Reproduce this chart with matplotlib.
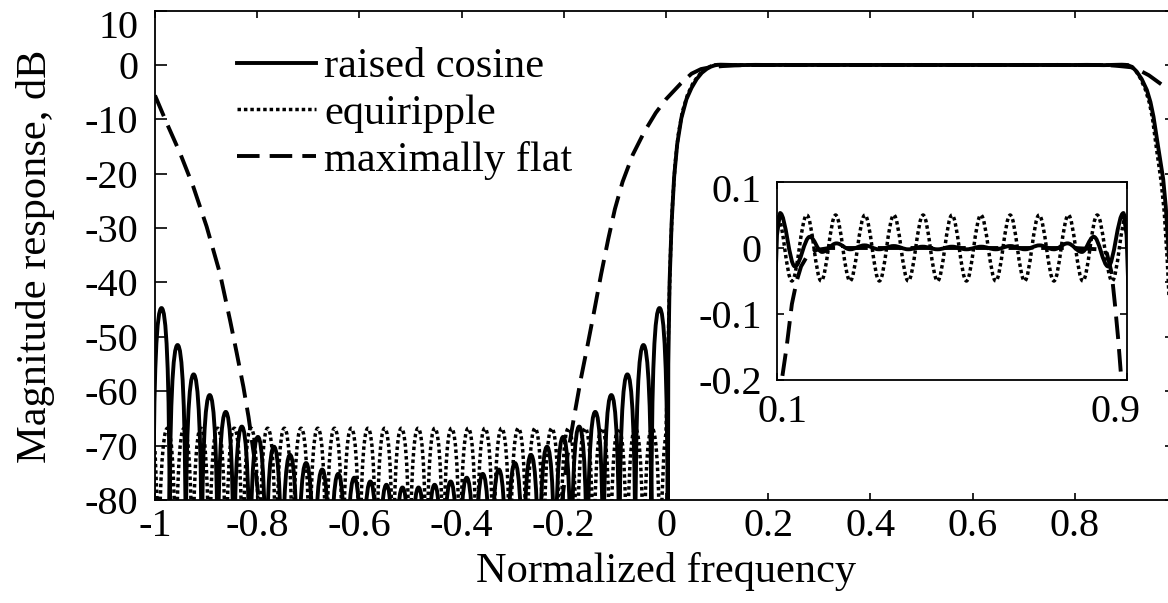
import matplotlib
matplotlib.use("Agg")
import matplotlib.pyplot as plt
from matplotlib.path import Path
from matplotlib.patches import PathPatch
from matplotlib.lines import Line2D

plt.rcParams['font.family'] = ['Liberation Serif', 'DejaVu Serif']
plt.rcParams['axes.unicode_minus'] = False

# ---------------- data ----------------
labels = ["raised cosine", "equiripple", "maximally flat"]

x_ticks = [-1, -0.8, -0.6, -0.4, -0.2, 0, 0.2, 0.4, 0.6, 0.8, 1]
x_ticklabels = ["-1", "-0.8", "-0.6", "-0.4", "-0.2", "0", "0.2", "0.4", "0.6", "0.8", "1"]
y_ticks = [10, 0, -10, -20, -30, -40, -50, -60, -70, -80]
y_ticklabels = ["10", "0", "-10", "-20", "-30", "-40", "-50", "-60", "-70", "-80"]
inset_x_ticks = [0.1, 0.9]
inset_x_ticklabels = ["0.1", "0.9"]
inset_y_ticks = [0.1, 0, -0.1, -0.2]
inset_y_ticklabels = ["0.1", "0", "-0.1", "-0.2"]

# raised cosine: stopband side-lobes (null frequencies, lobe peak levels in dB)
rc_null_f = [-1.003, -0.9716, -0.9401, -0.9087, -0.8773, -0.8458, -0.8144, -0.7829,
             -0.7515, -0.7201, -0.6886, -0.6572, -0.6258, -0.5943, -0.5629, -0.5314,
             -0.5000, -0.4686, -0.4371, -0.4057, -0.3743, -0.3428, -0.3114, -0.2799,
             -0.2485, -0.2171, -0.1856, -0.1542, -0.1227, -0.0913, -0.0599, -0.0284, 0.003]
rc_peak_db = [-44.7, -51.5, -56.9, -60.7, -63.8, -66.5, -68.4, -70.2, -71.7, -73.2,
              -74.4, -75.2, -75.9, -76.6, -77.2, -77.7, -77.7, -77.2, -76.6, -75.9,
              -75.2, -74.4, -73.2, -71.7, -70.2, -68.4, -66.5, -63.8, -60.7, -56.9,
              -51.5, -44.7]
# raised cosine: transition bands (dB)
rc_tl_f = [0.003, 0.0045, 0.007, 0.011, 0.016, 0.022, 0.030, 0.040, 0.050, 0.060,
           0.070, 0.080, 0.088, 0.095, 0.100]
rc_tl_db = [-110, -55, -40, -29, -20.5, -14.5, -9.8, -6.3, -4.2, -2.6, -1.45, -0.7,
            -0.3, -0.08, 0.02]
rc_tr_f = [0.899, 0.905, 0.912, 0.921, 0.931, 0.941, 0.948, 0.954, 0.963, 0.973,
           0.978, 0.984, 0.989, 0.993, 0.996, 0.998]
rc_tr_db = [0.02, -0.1, -0.35, -1.2, -2.6, -4.6, -6.8, -9.5, -15, -21, -26, -35,
            -46, -60, -80, -110]
# raised cosine: passband ripple extrema (dB)
rc_pass_f = [0.107, 0.141, 0.175, 0.203, 0.236, 0.267, 0.300, 0.333, 0.367, 0.400,
             0.433, 0.467, 0.500, 0.533, 0.567, 0.600, 0.633, 0.667, 0.700, 0.733,
             0.764, 0.797, 0.824, 0.857, 0.892]
rc_pass_db = [0.053, -0.028, 0.017, -0.006, 0.007, -0.002, 0.004, -0.002, 0.003, -0.002,
              0.002, -0.002, 0.002, -0.002, 0.002, -0.002, 0.003, -0.002, 0.004, -0.002,
              0.007, -0.006, 0.017, -0.028, 0.053]

# equiripple: stopband lobes
eq_null_f = [-0.992, -0.9593, -0.9266, -0.8939, -0.8612, -0.8285, -0.7958, -0.7631,
             -0.7304, -0.6977, -0.665, -0.6323, -0.5996, -0.5669, -0.5342, -0.5015,
             -0.4688, -0.4361, -0.4034, -0.3707, -0.338, -0.3053, -0.2726, -0.2399,
             -0.2072, -0.1745, -0.1418, -0.1091, -0.0764, -0.0437, -0.011]
eq_peak_db = [-66.8] * 30
eq_le_f = [-1.0, -0.996, -0.992]
eq_le_db = [-71, -80, -106.8]
eq_tl_f = [-0.011, -0.008, -0.004, 0.000, 0.003, 0.006, 0.009, 0.013, 0.018, 0.024,
           0.032, 0.042, 0.052, 0.062, 0.072, 0.082, 0.090, 0.096]
eq_tl_db = [-106.8, -80, -71, -67.5, -57, -44, -34, -25, -18, -12.8, -8.6, -5.5, -3.5,
            -2.1, -1.1, -0.45, -0.12, 0.0]
eq_tr_f = [0.904, 0.910, 0.918, 0.928, 0.938, 0.946, 0.952, 0.960, 0.969, 0.975,
           0.981, 0.986, 0.990, 0.994, 0.997, 1.0]
eq_tr_db = [0.0, -0.2, -0.9, -2.4, -4.5, -7.0, -9.8, -15.5, -21.5, -27, -36, -46,
            -58, -67.5, -70, -71]
eq_pass_f = [0.101, 0.134, 0.168, 0.201, 0.234, 0.267, 0.301, 0.334, 0.367, 0.400,
             0.434, 0.467, 0.500, 0.533, 0.566, 0.600, 0.633, 0.666, 0.699, 0.733,
             0.766, 0.799, 0.832, 0.866, 0.899]
eq_pass_db = [0.05, -0.05, 0.05, -0.05, 0.05, -0.05, 0.05, -0.05, 0.05, -0.05, 0.05,
              -0.05, 0.05, -0.05, 0.05, -0.05, 0.05, -0.05, 0.05, -0.05, 0.05, -0.05,
              0.05, -0.05, 0.05]

# maximally flat: smooth response (dB)
mf_f = [-1.0, -0.977, -0.951, -0.925, -0.899, -0.873, -0.853, -0.840, -0.827, -0.817,
        -0.806, -0.797, -0.785, -0.5, -0.215, -0.203, -0.193, -0.181, -0.167, -0.154,
        -0.141, -0.127, -0.113, -0.100, -0.085, -0.065, -0.0425, -0.020, 0.0, 0.029,
        0.050, 0.0686, 0.090, 0.104, 0.111, 0.122, 0.134, 0.145, 0.155, 0.170, 0.190,
        0.220, 0.500, 0.780, 0.835, 0.854, 0.865, 0.873, 0.880, 0.886, 0.895, 0.910,
        0.925, 0.945, 0.967, 0.985, 1.0]
mf_db = [-5.6, -10.7, -16.2, -22.4, -29.7, -38.3, -47.0, -53.0, -59.2, -64.7,
         -72.0, -80.0, -92, -200, -92, -80, -72.0, -65.3, -57.9, -51.8,
         -45.5, -38.5, -32.0, -26.5, -21.5, -16.5, -12.3, -8.8, -6.3, -3.4,
         -1.6, -0.75, -0.36, -0.26, -0.2, -0.15, -0.085, -0.05, -0.028, -0.011, -0.003,
         0.0, 0.0, 0.0, -0.002, -0.008, -0.038, -0.089, -0.139, -0.19, -0.27, -0.42,
         -0.9, -1.9, -3.4, -4.6, -5.6]


# ---------------- path helpers ----------------
class Builder:
    def __init__(self):
        self.v, self.c = [], []

    def point(self, x, y):
        self.v.append((x, y))
        self.c.append(Path.MOVETO if not self.c else Path.LINETO)

    def poly(self, xs, ys):
        for x, y in zip(xs, ys):
            self.point(x, y)

    def lobes(self, nulls, peaks, drop=40.0):
        for i, p in enumerate(peaks):
            n0, n1 = nulls[i], nulls[i + 1]
            c = 0.5 * (n0 + n1)
            h = 0.5 * (n1 - n0)
            self.point(n0, p - drop)
            self.v += [(n0, p - 10), (c - 0.55 * h, p), (c, p),
                       (c + 0.55 * h, p), (n1, p - 10), (n1, p - drop)]
            self.c += [Path.CURVE4] * 6

    def extrema(self, xs, ys, k=0.3642):
        self.point(xs[0], ys[0])
        for i in range(len(xs) - 1):
            x0, y0, x1, y1 = xs[i], ys[i], xs[i + 1], ys[i + 1]
            d = k * (x1 - x0)
            self.v += [(x0 + d, y0), (x1 - d, y1), (x1, y1)]
            self.c += [Path.CURVE4] * 3

    def path(self):
        return Path(self.v, self.c)


def rc_path():
    b = Builder()
    b.lobes(rc_null_f, rc_peak_db)
    b.poly(rc_tl_f, rc_tl_db)
    b.extrema(rc_pass_f, rc_pass_db)
    b.poly(rc_tr_f, rc_tr_db)
    return b.path()


def eq_path():
    b = Builder()
    b.poly(eq_le_f, eq_le_db)
    b.lobes(eq_null_f, eq_peak_db)
    b.poly(eq_tl_f, eq_tl_db)
    b.extrema(eq_pass_f, eq_pass_db)
    b.poly(eq_tr_f, eq_tr_db)
    return b.path()


styles = [
    dict(lw=2.8, linestyle='-'),
    dict(lw=2.5, linestyle=(0, (1.0, 0.85))),
    dict(lw=2.8, linestyle=(0, (5.8, 2.6))),
]


def draw_all(ax):
    ax.add_patch(PathPatch(rc_path(), fill=False, edgecolor='black',
                           capstyle='butt', joinstyle='round', **styles[0]))
    ax.add_patch(PathPatch(eq_path(), fill=False, edgecolor='black',
                           capstyle='butt', joinstyle='round', **styles[1]))
    ax.plot(mf_f, mf_db, color='black', dash_capstyle='butt',
            lw=styles[2]['lw'], linestyle=styles[2]['linestyle'])


TICK_FS = 29
LABEL_FS = 30.5

# ---------------- figure ----------------
W, H = 1168, 603
fig = plt.figure(figsize=(W / 100, H / 100), dpi=100)
fig.patch.set_facecolor('white')

ax = fig.add_axes([155 / W, 1 - 500 / H, 1022 / W, (500 - 10.6) / H])
draw_all(ax)
ax.set_xlim(-1, 1)
ax.set_ylim(-80, 10)
ax.set_xticks(x_ticks)
ax.set_xticklabels(x_ticklabels)
ax.set_yticks(y_ticks)
# the top label ("10") sits lower than its tick in the reference: drawn separately
ax.set_yticklabels([""] + y_ticklabels[1:])
ax.annotate(y_ticklabels[0], xy=(0, y_ticks[0]), xycoords=('axes fraction', 'data'),
            xytext=(-12, -13), textcoords='offset points', ha='right',
            va='center', fontsize=TICK_FS)
ax.tick_params(axis='both', direction='in', top=True, right=True,
               labelsize=TICK_FS, width=1.2, colors='black')
ax.tick_params(axis='x', length=5, pad=6)
ax.tick_params(axis='y', length=8.5, pad=12)
for s in ax.spines.values():
    s.set_linewidth(1.3)

handles = [Line2D([], [], color='black', **styles[i]) for i in range(3)]
ax.legend(handles, labels, loc='upper left', bbox_to_anchor=(0.080, 0.924),
          frameon=False, fontsize=LABEL_FS, handlelength=1.87, handletextpad=0.2,
          labelspacing=0.19, borderpad=0.0, borderaxespad=0.0)

fig.text(36 / W, 1 - 256 / H, "Magnitude response, dB", rotation=90,
         ha='center', va='center', fontsize=LABEL_FS)
fig.text(666 / W, 1 - 582 / H, "Normalized frequency", ha='center',
         va='baseline', fontsize=LABEL_FS)

# inset
axi = fig.add_axes([777 / W, 1 - 380 / H, 350 / W, 198 / H])
axi.set_facecolor('white')
draw_all(axi)
axi.set_xlim(0.1, 0.9)
axi.set_ylim(-0.2, 0.1)
axi.set_xticks(inset_x_ticks)
axi.set_xticklabels(["", ""])
axi.set_yticks(inset_y_ticks)
axi.set_yticklabels([""] + inset_y_ticklabels[1:])
axi.annotate(inset_y_ticklabels[0], xy=(0, inset_y_ticks[0]),
             xycoords=('axes fraction', 'data'), xytext=(-11, -7.5),
             textcoords='offset points', ha='right', va='center', fontsize=TICK_FS)
for xv, lab, dx in zip(inset_x_ticks, inset_x_ticklabels, [4.3, -8.6]):
    axi.annotate(lab, xy=(xv, 0), xycoords=('data', 'axes fraction'),
                 xytext=(dx, -23.4), textcoords='offset points', ha='center',
                 va='center', fontsize=TICK_FS)
axi.tick_params(axis='both', direction='in', top=True, right=True,
                labelsize=TICK_FS, width=1.2, length=5)
axi.tick_params(axis='y', pad=11)
for s in axi.spines.values():
    s.set_linewidth(1.3)

fig.savefig("out.png", dpi=100, facecolor='white')
